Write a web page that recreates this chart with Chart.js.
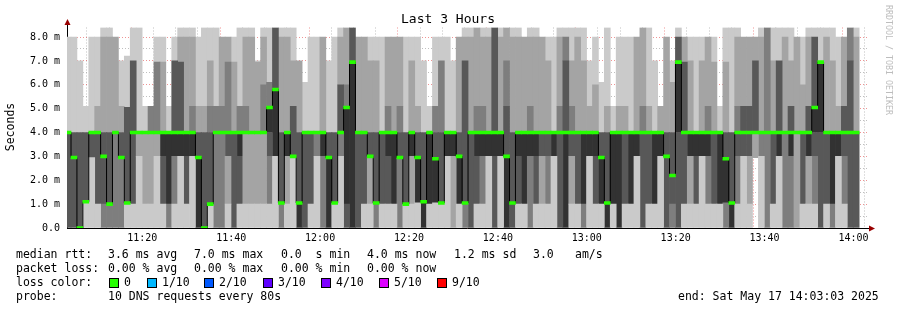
<!DOCTYPE html>
<html>
<head>
<meta charset="utf-8">
<title>Last 3 Hours</title>
<script src="https://cdn.jsdelivr.net/npm/chart.js@4/dist/chart.umd.min.js"></script>
<style>
html, body { margin: 0; padding: 0; background: #fff; }
canvas { display: block; }
</style>
</head>
<body>
<canvas id="smokeChart" width="897" height="310"></canvas>
<script>
// x axis is in minutes after 11:00, one slot every 80 s, first slot starts 11:02:37
var slotStartSec = 157;
var slotSec = 80;
var axisStart = 3.05;   // 11:03:03
var axisEnd = 183.05;   // 14:03:03

// 10 sorted pings per slot (ms), ping1 = fastest
var ping1 = [
0,0,0,0,0,0,0,0,0,0, 0,0,0,0,0,0,0,0,0,0, 0,0,0,0,0,0,0,0,0,0, 0,0,0,0,0,0,0,0,0,0,
0,0,0,0,0,0,0,0,0,0, 0,0,0,0,0,0,0,0,0,0, 0,0,0,0,0,0,0,0,0,0, 0,0,0,0,0,0,0,0,0,0,
0,0,0,0,0,0,0,0,0,0, 0,0,0,0,0,0,0,0,0,0, 0,0,0,0,0,0,0,0,0,0, 0,0,0,0,0,0,2.95,0,0,0,
0,0,0,0,0,0,0,0,0,0, 0,0,0,0];
var ping2 = [
0,0,0,1.1,2.95,1,0,0,0,0, 1.05,1,3,1,1,3,1,0,1,3, 1,3,0,0,1,0,0,1,0,1, 1,1,1,1,1,3,0,1,3,0,
0,1,3,0,0,1.05,3,0,0,0, 1,1,0,1,1,1,0,1,1,1.05, 0,1,1.05,1,3,0,1,0,0,1, 1,3,0,3,0,0,1,1,0,1,
1,1,3,0,0,1,1,0,3,1, 1,0,1,0,1,1,3,0,1,1, 3,0,0,0,1,1,1,3,1,1, 1,0,0,1,3,1,2.95,3,0,1,
3,0,0,0,1,1,1,0,1,0, 3,1,0,0];
var ping3 = [
0,0,0,1.1,2.95,1,0,0,0,0, 1.05,1,4,4,4,4,1,0,1,3, 1,3,0,0,1,0,0,3,0,1, 4,4,4,4,1,3,0,3,3,0,
0,1,3,0,0,1.05,3,0,0,0, 1,3,0,1,1,1,0,1,3,1.05, 0,1,1.05,1,3,3,1,0,0,1, 1,3,0,3,0,0,1,1,0,1,
3,1,3,0,0,3,1,0,3,1, 1,0,1,0,1,1,3,0,1,1, 3,0,0,0,1,3,1,3,1,1, 1,0,0,1,3,3,4,3,0,1,
3,0,0,4,1,3,1,0,1,0, 3,1,0,0];
var ping4 = [
0,0,0,1.1,2.95,1,1,1,4,2.95, 1.05,1,4,4,4,4,1,1,3,3, 1,3,0,0,1,4,4,3,0,1, 4,4,4,4,3,3,1.05,3,3,0,
0,1,4,3,0,1.05,4,0,0,0, 1,3,1.05,1,1,1,2.95,1,3,1.05, 0,1,1.05,1,3,3,1,1.05,0,1, 3,3,0,3,0,0,1,1,3,1,
3,3,3,0,0,3,1,1,3,1, 1,0,1,0,1,1,3,0,1,1, 3,0,1,0,1,3,1,3,3,1, 1,1.05,0,3,3,3,4,4,4,1,
3,4,3,4,1,3,3,0,1,1, 3,3,0,0];
var ping5 = [
4,2.95,0,1.1,4,4,3,1,4,2.95, 1.05,4,4,4,4,4,3,1,3,3, 3,3,0,0,1,4,4,4,4,3, 4,4,4,4,4,3,1.05,3,3,0,
4,4,4,3,0,1.05,4,1,0,4, 4,3,1.05,4,3,1,2.95,1,3,1.05, 0,1,1.05,1,3,3,1,1.05,4,3, 3,3,3,3,0,1.05,3,1,3,3,
4,4,3,4,0,4,4,1,3,3, 1,0,1,0,4,1,3,4,4,1, 3,3,2.2,4,4,3,3,3,3,4, 1,1.05,0,4,4,4,4,4,4,4,
3,4,3,4,4,3,4,4,4,1, 3,4,4,4];
// median rtt (green marks); the probe reports the 6th sorted ping as median
var median = [
4,2.95,0,1.1,4,4,3,1,4,2.95, 1.05,4,4,4,4,4,4,4,4,4, 4,4,2.95,0,1,4,4,4,4,4, 4,4,4,4,5.05,5.8,1.05,4,3,1.05,
4,4,4,4,2.95,1.05,4,5.05,6.95,4, 4,3,1.05,4,4,4,2.95,1,4,2.95, 1.1,4,2.9,1.05,4,4,3,1.05,4,4, 4,4,4,4,3,1.05,4,4,4,4,
4,4,4,4,4,4,4,4,4,4, 2.95,1.05,4,4,4,4,4,4,4,4, 4,3,2.2,6.95,4,4,4,4,4,4, 4,2.9,1.05,4,4,4,4,4,4,4,
4,4,4,4,4,4,5.05,6.95,4,4, 4,4,4,4];
var ping6 = median;
var ping7 = [
4,4,4,4,4,4,4,4,4,4, 5.05,7,4,4,4,4,4,4,7,6.95, 4,4,4,4,4,4,4,4,4,4, 4,4,4,4,5.05,8.4,4,4,5.1,4,
4,4,4,4,4,4,6,5.05,8.4,4, 4,4,4,4,4,4,4,4,4,4, 4,4,4,4,4,4,4,7,4,4, 4,4,8.4,4,5.1,4,4,4,4,4,
4,4,4,4,7,4,4,4,4,4, 4,4,4,4,4,4,4,4,4,4, 4,4,4,8,6.95,4,4,4,4,4, 4,4,4,4,5.1,5.1,7,4,4,4,
7,4,5.1,4,4,5.1,8,6.95,4,4, 4,5.1,7,4];
var ping8 = [
4,4,4,4,4,4,4,4,4,4, 5.05,7,4,4,5.1,6.95,4,4,7,6.95, 4,5.1,4,4,5.1,5.1,5.1,6.95,4,5.1, 5.1,4,4,6,6.1,8.4,4,4,5.1,4,
4,4,4,4,4,4,6,6,8.4,4, 4,4,4,4,5.1,4,5.1,4,4,4, 4,4,5.1,7,4,4,4,7,4,5.1, 5.1,4,8.4,4,7,4,4,4,5.1,4,
4,4,4,5.1,8,5.1,4,4,4,4, 4,4,4,4,4,4,4,5.1,4,4, 4,4,4,8,6.95,4,4,4,5.1,4, 4,4,4,5.1,5.1,5.1,7,4,8.4,4,
7,4,5.1,4,4,5.1,8,6.95,4,4, 4,5.1,8.4,4];
var ping9 = [
4,4,4,4,4,5.1,8,8,8,5.1, 5.05,7,4,4,5.1,6.95,6.95,4,7,8, 8,8,5.1,5.1,7,5.1,8,8,6.95,5.1, 8,8,6.95,8,6.1,8.4,8,8,7,7,
4,4,4,8,4,4,8,8.4,8.4,8, 8,7,7,4,8,8,8,4,7,5.1, 4,4,5.1,7,4,4,8,8,8,8.4, 8,8,8.4,8,8.4,8,8,8,8,8,
8,7,4,8,8,7,8,7,5.1,6, 4,5.1,4,5.1,5.1,4,8,8.4,5.1,4, 5.1,8,6.1,8,8,7,4,7,8,6.95, 4,6.95,4,8,8,8,8,8,8.4,7,
7,8,7,8,6,8,8,6.95,8,7, 5.1,8,8.4,8];
var ping10 = [
8,8,7,5.1,8,8,8.4,8.4,8,7, 7.2,8.4,8.4,5.1,5.1,8,8,5.1,8,8.4, 8.4,8.4,8,8.4,8.4,8.4,8,8,8,8.4, 8.4,8.4,7,8.4,8.4,8.4,8.4,8.4,8.4,7,
6.1,8,8,8,7,8,8.4,8.4,8.4,8, 8,8,8,8,8,8,8,8,8,8, 7,5.1,8,8,8,7,8,8.4,8.4,8.4, 8.4,8.4,8.4,8.4,8.4,8.4,8.4,8,8.4,8.4,
8,8,8,8.4,8.4,8.4,8.4,8.4,7,8, 6.1,8.4,5.1,8,8,8,8,8.4,8.4,7, 5.1,8,7,8.4,8,8,8,8,8,8, 5.1,8.4,8.4,8.4,8,8,8,8.4,8.4,8.4,
8.4,8.4,8.4,8,8,8.4,8.4,8.4,8.4,8.4, 8,8,8.4,8.4];

var yTicks = [0, 0.5, 1, 1.5, 2, 2.5, 3, 3.5, 4, 4.5, 5, 5.5, 6, 6.5, 7, 7.5, 8];

var rttLine = [['median rtt:', 16], ['3.6 ms avg', 108], ['7.0 ms max', 194], ['0.0  s min', 281],
               ['4.0 ms now', 367], ['1.2 ms sd', 454], ['3.0', 533], ['am/s', 575]];
var lossLine = [['packet loss:', 16], ['0.00 % avg', 108], ['0.00 % max', 194], ['0.00 % min', 281], ['0.00 % now', 367]];
var lossLabels = ['0', '1/10', '2/10', '3/10', '4/10', '5/10', '9/10'];
var lossColors = ['#26ff00', '#00b8ff', '#0059ff', '#5e00ff', '#7e00ff', '#dd00ff', '#ff0000'];
var lossBoxX = [109, 147, 204, 263, 321, 379, 437];
var probeText = '10 DNS requests every 80s';
var endText = 'end: Sat May 17 14:03:03 2025';

var smokeColors = ['#cacaca', '#a4a4a4', '#7e7e7e', '#585858', '#323232', '#585858', '#7e7e7e', '#a4a4a4', '#cacaca'];
var mono = 'DejaVu Sans Mono';
var minorGrid = 'rgba(170,170,170,0.75)';
var majorGrid = 'rgba(225,60,60,0.55)';

var pings = [ping1, ping2, ping3, ping4, ping5, ping6, ping7, ping8, ping9, ping10];
var times = median.map(function (m, i) { return (slotStartSec + slotSec * (i + 0.5)) / 60; });

var barCommon = { type: 'bar', grouped: false, barPercentage: 1, categoryPercentage: 1, borderWidth: 0, inflateAmount: 0.35 };

var datasets = [];
datasets.push(Object.assign({}, barCommon, {
    data: median.map(function (m, i) { return { x: times[i], y: [m - 0.06, m + 0.06] }; }),
    backgroundColor: '#26ff00', order: 0
}));
datasets.push({
    type: 'line', data: median.map(function (m, i) { return { x: times[i], y: m }; }),
    borderColor: '#000', borderWidth: 1, pointRadius: 0, stepped: 'middle', order: 1
});
for (var k = 0; k < 9; k++) {
    var lo = pings[k], hi = pings[k + 1], pts = [];
    for (var i = 0; i < times.length; i++) {
        if (hi[i] > lo[i]) pts.push({ x: times[i], y: [lo[i], hi[i]] });
    }
    datasets.push(Object.assign({}, barCommon, { data: pts, backgroundColor: smokeColors[k], order: 2 }));
}

function clock(v) {
    var h = 11 + Math.floor(v / 60), m = v % 60;
    return h + ':' + (m < 10 ? '0' : '') + m;
}

var rrdText = {
    id: 'rrdText',
    afterDraw: function (chart) {
        var ctx = chart.ctx, a = chart.chartArea;
        ctx.save();
        // axis extensions and arrows
        ctx.strokeStyle = '#000';
        ctx.lineWidth = 1;
        ctx.beginPath();
        ctx.moveTo(a.left + 0.5, a.top);
        ctx.lineTo(a.left + 0.5, 23);
        ctx.moveTo(a.right, a.bottom + 0.5);
        ctx.lineTo(870, a.bottom + 0.5);
        ctx.stroke();
        ctx.fillStyle = '#990000';
        ctx.beginPath();
        ctx.moveTo(a.left + 0.5, 19); ctx.lineTo(a.left - 2.5, 25); ctx.lineTo(a.left + 3.5, 25);
        ctx.closePath(); ctx.fill();
        ctx.beginPath();
        ctx.moveTo(875, a.bottom + 0.5); ctx.lineTo(869, a.bottom - 2.5); ctx.lineTo(869, a.bottom + 3.5);
        ctx.closePath(); ctx.fill();

        ctx.fillStyle = '#000';
        ctx.textBaseline = 'middle';
        ctx.textAlign = 'center';
        ctx.font = '13px "' + mono + '"';
        ctx.fillText('Last 3 Hours', 448, 20);

        ctx.save();
        ctx.translate(11, 127);
        ctx.rotate(-Math.PI / 2);
        ctx.font = '11.5px "' + mono + '"';
        ctx.fillText('Seconds', 0, 0);
        ctx.restore();

        ctx.save();
        ctx.translate(888.5, 5);
        ctx.rotate(Math.PI / 2);
        ctx.textAlign = 'left';
        ctx.fillStyle = '#bdbdbd';
        ctx.font = '8.3px "' + mono + '"';
        ctx.fillText('RRDTOOL / TOBI OETIKER', 0, 0);
        ctx.restore();

        ctx.textAlign = 'left';
        ctx.font = '11.5px "' + mono + '"';
        rttLine.forEach(function (t) { ctx.fillText(t[0], t[1], 255); });
        lossLine.forEach(function (t) { ctx.fillText(t[0], t[1], 269); });
        ctx.fillText('loss color:', 16, 283);
        for (var j = 0; j < lossLabels.length; j++) {
            ctx.fillStyle = lossColors[j];
            ctx.fillRect(lossBoxX[j], 278, 9, 9);
            ctx.strokeStyle = '#000';
            ctx.strokeRect(lossBoxX[j] + 0.5, 278.5, 9, 9);
            ctx.fillStyle = '#000';
            ctx.fillText(lossLabels[j], lossBoxX[j] + 15, 283);
        }
        ctx.fillText('probe:', 16, 297);
        ctx.fillText(probeText, 108, 297);
        ctx.fillText(endText, 678, 297);
        ctx.restore();
    }
};

Chart.defaults.font.family = mono;
Chart.defaults.color = '#000';

new Chart(document.getElementById('smokeChart').getContext('2d'), {
    type: 'bar',
    data: { datasets: datasets },
    plugins: [rrdText],
    options: {
        responsive: false,
        animation: false,
        devicePixelRatio: 1,
        events: [],
        layout: { padding: { left: 0, top: 27.5, right: 30, bottom: 0 } },
        plugins: { legend: { display: false }, tooltip: { enabled: false }, title: { display: false } },
        scales: {
            x: {
                type: 'linear', min: axisStart, max: axisEnd, offset: false, z: 1,
                afterBuildTicks: function (s) {
                    var t = [];
                    for (var v = 5; v <= 180; v += 5) t.push({ value: v });
                    s.ticks = t;
                },
                afterFit: function (s) { s.height = 82; s.paddingLeft = 0; s.paddingRight = 0; },
                grid: {
                    drawTicks: false, lineWidth: 1,
                    color: function (c) { return c.tick && c.tick.value % 20 === 0 ? majorGrid : minorGrid; }
                },
                border: { display: true, color: '#000', width: 1, dash: [1, 2] },
                ticks: {
                    autoSkip: false, maxRotation: 0, padding: 4, font: { size: 10 },
                    callback: function (v) { return v % 20 === 0 ? clock(v) : ''; }
                }
            },
            y: {
                min: 0, max: 8.4, z: 1,
                afterBuildTicks: function (s) { s.ticks = yTicks.map(function (v) { return { value: v }; }); },
                afterFit: function (s) { s.width = 67; s.paddingTop = 0; s.paddingBottom = 0; },
                grid: {
                    drawTicks: false, lineWidth: 1,
                    color: function (c) { return c.tick && Number.isInteger(c.tick.value) ? majorGrid : minorGrid; }
                },
                border: { display: true, color: '#000', width: 1, dash: [1, 2] },
                ticks: {
                    autoSkip: false, padding: 7, font: { size: 10 },
                    callback: function (v) {
                        if (!Number.isInteger(v)) return '';
                        return v === 0 ? '0.0' : v.toFixed(1) + ' m';
                    }
                }
            }
        }
    }
});
</script>
</body>
</html>
